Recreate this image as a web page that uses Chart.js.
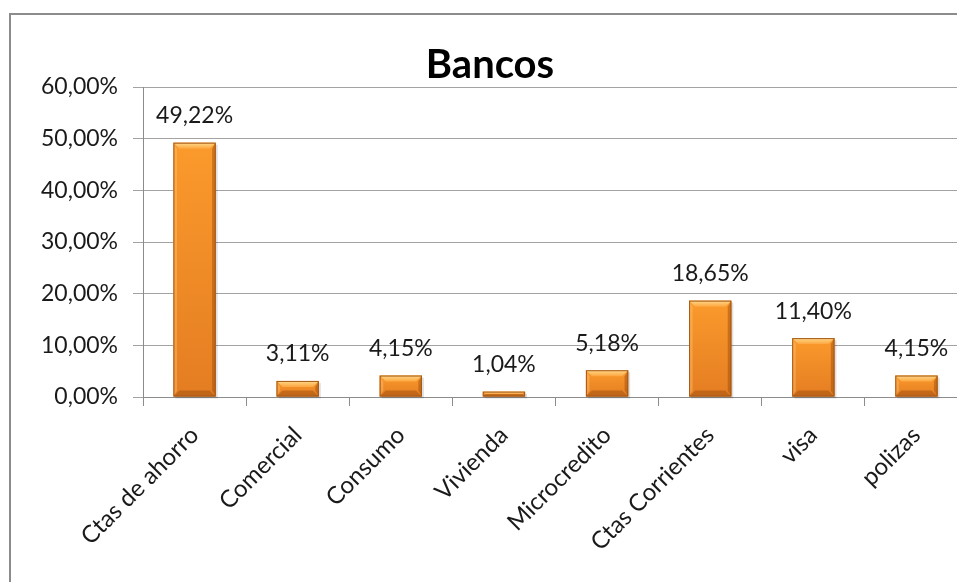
<!DOCTYPE html>
<html>
<head>
<meta charset="utf-8">
<title>Bancos</title>
<script src="https://cdn.jsdelivr.net/npm/chart.js@4/dist/chart.umd.min.js"></script>
<style>
    html, body { margin: 0; padding: 0; background: #fff; overflow: hidden; }
    #marco {
        position: absolute; left: 9px; top: 13px;
        width: 1000px; height: 700px;
        border: 2px solid #8c8c8c;
    }
    #lienzo { position: absolute; left: 0; top: 0; width: 980px; height: 600px; }
</style>
</head>
<body>
<div id="marco"></div>
<div id="lienzo"><canvas id="bancosChart" width="980" height="600"></canvas></div>

<script>
// Datos del grafico
const categorias = ['Ctas de ahorro', 'Comercial', 'Consumo', 'Vivienda', 'Microcredito', 'Ctas Corrientes', 'visa', 'polizas'];
const porcentajes = [49.22, 3.11, 4.15, 1.04, 5.18, 18.65, 11.40, 4.15];
const ejeMin = 0;
const ejeMax = 60;
const ejePaso = 10;

const fuente = 'Lato, "Open Sans", sans-serif';
const formato = v => Number(v).toFixed(2).replace('.', ',') + '%';

// Relieve naranja tipo bisel sobre cada barra
const biselBarras = {
    id: 'biselBarras',
    afterDatasetsDraw(chart) {
        const ctx = chart.ctx;
        chart.getDatasetMeta(0).data.forEach(bar => {
            const l = bar.x - bar.width / 2, r = bar.x + bar.width / 2;
            const t = bar.y, b = bar.base;
            const h = b - t;
            const bv = Math.min(6, h / 2);
            ctx.save();
            // sombra suave
            ctx.fillStyle = 'rgba(0,0,0,0.12)';
            ctx.fillRect(l + 2, t + 2, r - l, h);
            // cuerpo
            const g = ctx.createLinearGradient(0, t, 0, b);
            g.addColorStop(0, '#fb9a2c');
            g.addColorStop(1, '#e47d22');
            ctx.fillStyle = g;
            ctx.fillRect(l, t, r - l, h);
            // bisel superior
            const gs = ctx.createLinearGradient(0, t, 0, t + bv);
            gs.addColorStop(0, '#ffd98a');
            gs.addColorStop(1, '#fda640');
            ctx.fillStyle = gs;
            ctx.beginPath();
            ctx.moveTo(l, t); ctx.lineTo(r, t); ctx.lineTo(r - bv, t + bv); ctx.lineTo(l + bv, t + bv);
            ctx.closePath(); ctx.fill();
            // lado izquierdo
            ctx.fillStyle = 'rgba(255,190,110,0.45)';
            ctx.beginPath();
            ctx.moveTo(l, t); ctx.lineTo(l + bv * 0.6, t + bv); ctx.lineTo(l + bv * 0.6, b - bv); ctx.lineTo(l, b);
            ctx.closePath(); ctx.fill();
            // lado derecho
            ctx.fillStyle = 'rgba(150,70,10,0.45)';
            ctx.beginPath();
            ctx.moveTo(r, t); ctx.lineTo(r - bv * 0.6, t + bv); ctx.lineTo(r - bv * 0.6, b - bv); ctx.lineTo(r, b);
            ctx.closePath(); ctx.fill();
            // bisel inferior
            ctx.fillStyle = 'rgba(140,65,10,0.4)';
            ctx.beginPath();
            ctx.moveTo(l, b); ctx.lineTo(r, b); ctx.lineTo(r - bv, b - bv); ctx.lineTo(l + bv, b - bv);
            ctx.closePath(); ctx.fill();
            // contorno
            ctx.strokeStyle = '#a45a1a';
            ctx.lineWidth = 1;
            ctx.strokeRect(l + 0.5, t + 0.5, r - l - 1, h - 1);
            ctx.restore();
        });
    }
};

// Etiquetas de valor encima de las barras
const etiquetasValor = {
    id: 'etiquetasValor',
    afterDatasetsDraw(chart) {
        const ctx = chart.ctx;
        const ds = chart.data.datasets[0];
        ctx.save();
        ctx.font = '23px ' + fuente;
        ctx.fillStyle = '#1a1a1a';
        ctx.textAlign = 'center';
        ctx.textBaseline = 'middle';
        chart.getDatasetMeta(0).data.forEach((bar, i) => {
            ctx.fillText(formato(ds.data[i]), bar.x, bar.y - 27);
        });
        ctx.restore();
    }
};

new Chart(document.getElementById('bancosChart'), {
    type: 'bar',
    data: {
        labels: categorias,
        datasets: [{
            label: 'Bancos',
            data: porcentajes,
            backgroundColor: '#f39230',
            borderWidth: 0,
            categoryPercentage: 1,
            barPercentage: 0.41
        }]
    },
    options: {
        responsive: false,
        animation: false,
        layout: { padding: { left: 12, right: 12, top: 0, bottom: 0 } },
        plugins: {
            legend: { display: false },
            tooltip: { enabled: false },
            title: {
                display: true,
                text: 'Bancos',
                color: '#000',
                font: { family: fuente, size: 40, weight: 'bold', lineHeight: 1.1 },
                padding: { top: 43, bottom: 0 }
            }
        },
        scales: {
            y: {
                min: ejeMin,
                max: ejeMax,
                afterFit: s => { s.width = 131; },
                ticks: {
                    stepSize: ejePaso,
                    padding: 15,
                    color: '#1a1a1a',
                    font: { family: fuente, size: 23 },
                    callback: v => formato(v)
                },
                grid: { color: '#a3a3a3', lineWidth: 1, tickLength: 10 },
                border: { color: '#8c8c8c', width: 1 }
            },
            x: {
                afterFit: s => { s.height = 600 - 397; },
                ticks: {
                    minRotation: 45,
                    maxRotation: 45,
                    padding: 15,
                    color: '#1a1a1a',
                    font: { family: fuente, size: 24 }
                },
                grid: { drawOnChartArea: false, color: '#8c8c8c', tickLength: 9, offset: true },
                border: { color: '#8c8c8c', width: 1 }
            }
        }
    },
    plugins: [biselBarras, etiquetasValor]
});
</script>
</body>
</html>
